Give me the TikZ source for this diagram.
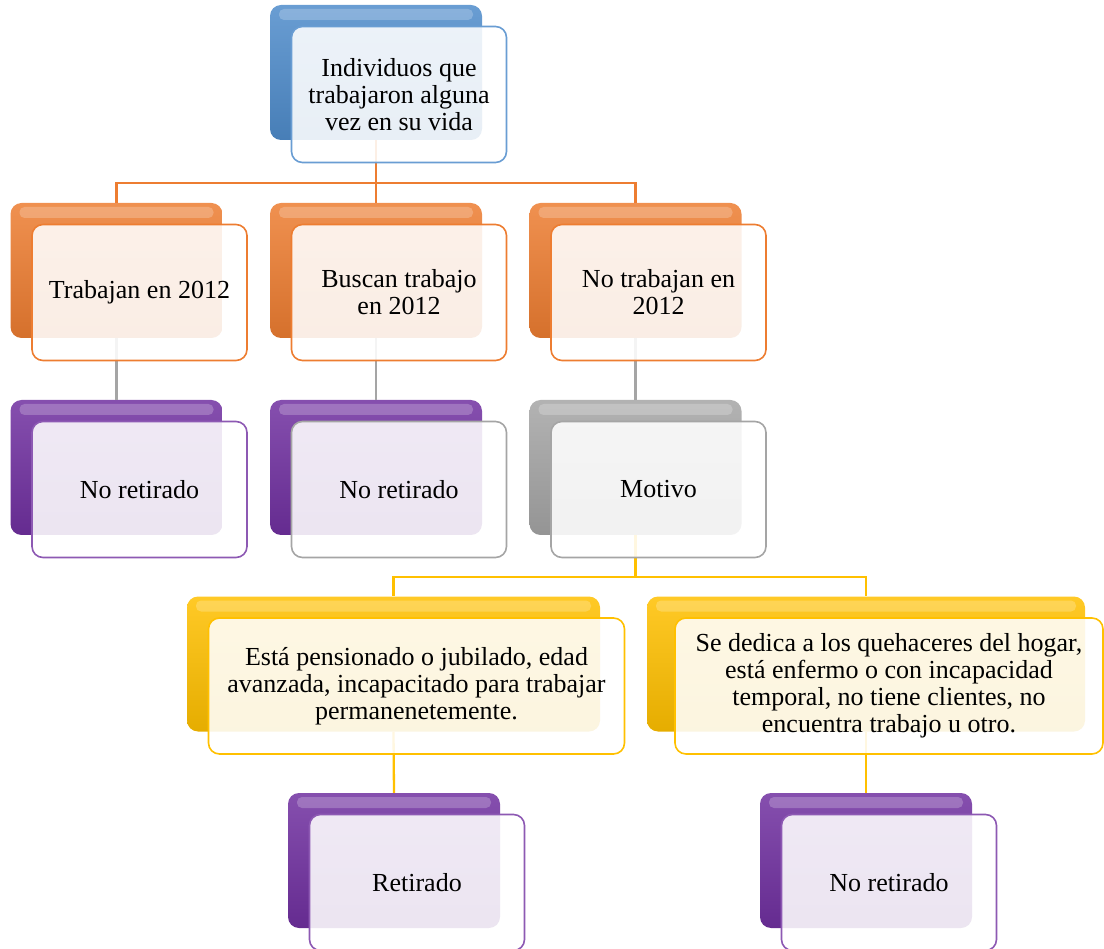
\documentclass[tikz,border=0pt]{standalone}
\usepackage{fontspec}
\setmainfont{Liberation Serif}
\definecolor{azul}{HTML}{4F8CCB}
\definecolor{naranja}{HTML}{ED7D31}
\definecolor{morado}{HTML}{7030A0}
\definecolor{gris}{HTML}{A5A5A5}
\definecolor{amarillo}{HTML}{FFC000}
\begin{document}
\begin{tikzpicture}[x=1pt, y=-1pt,
    fondo/.style = {shape=rectangle, rounded corners=11pt, minimum width=212pt,
    minimum height=135pt, top color=#1!85!white, middle color=#1, bottom color=#1!90!black,
    path picture={\fill[white, opacity=0.22, rounded corners=5pt]
      ([xshift=9pt,yshift=-4pt]path picture bounding box.north west) rectangle
      ([xshift=-9pt,yshift=-15pt]path picture bounding box.north east);}},
    frente/.style = {shape=rectangle, rounded corners=11pt, draw=#1, line width=1.6pt,
    minimum width=215pt, minimum height=136pt, fill=white, fill opacity=0.88, text opacity=1,
    align=center, font=\fontsize{26}{27}\selectfont, xshift=23pt, yshift=-22pt},
    linea/.style = {draw=#1, line width=2.3pt}]
    \useasboundingbox (0,0) rectangle (1104,949);
    \node[fondo=azul] (f-raiz) at (376,72.5) {};
    \node[fondo=naranja] (f-trabajan) at (116.5,270.5) {};
    \node[fondo=naranja] (f-buscan) at (376,270.5) {};
    \node[fondo=naranja] (f-notrabajan) at (635.5,270.5) {};
    \node[fondo=morado] (f-noret1) at (116.5,467.5) {};
    \node[fondo=morado] (f-noret2) at (376,467.5) {};
    \node[fondo=gris] (f-motivo) at (635.5,467.5) {};
    \node[fondo=amarillo, minimum width=413pt] (f-pension) at (393.5,664) {};
    \node[fondo=amarillo, minimum width=438pt] (f-hogar) at (866,664) {};
    \node[fondo=morado] (f-retirado) at (394,860.5) {};
    \node[fondo=morado] (f-noret3) at (866,860.5) {};
    \coordinate (bus1) at (376,183);
    \coordinate (bus2) at (635.5,577);
    \draw[linea=naranja] (f-raiz.south) -- (bus1) -| (f-trabajan.north);
    \draw[linea=naranja] (bus1) -- (f-buscan.north);
    \draw[linea=naranja] (bus1) -| (f-notrabajan.north);
    \draw[linea=gris] (f-trabajan.south) -- (f-noret1.north);
    \draw[linea=gris] (f-buscan.south) -- (f-noret2.north);
    \draw[linea=gris] (f-notrabajan.south) -- (f-motivo.north);
    \draw[linea=amarillo] (f-motivo.south) -- (bus2) -| (f-pension.north);
    \draw[linea=amarillo] (bus2) -| (f-hogar.north);
    \draw[linea=amarillo] (f-pension.south) -- (f-retirado.north);
    \draw[linea=amarillo] (f-hogar.south) -- (f-noret3.north);
    \node[frente=azul!85!white] (raiz) at (f-raiz) {Individuos que\\trabajaron alguna\\vez en su vida};
    \node[frente=naranja] (trabajan) at (f-trabajan) {Trabajan en 2012};
    \node[frente=naranja] (buscan) at (f-buscan) {Buscan trabajo\\en 2012};
    \node[frente=naranja] (notrabajan) at (f-notrabajan) {No trabajan en\\2012};
    \node[frente=morado!80!white] (noret1) at (f-noret1) {No retirado};
    \node[frente=gris] (noret2) at (f-noret2) {No retirado};
    \node[frente=gris] (motivo) at (f-motivo) {Motivo};
    \node[frente=amarillo, minimum width=416pt] (pension) at (f-pension)
      {Está pensionado o jubilado, edad\\avanzada, incapacitado para trabajar\\permanenetemente.};
    \node[frente=amarillo, minimum width=428pt] (hogar) at (f-hogar)
      {Se dedica a los quehaceres del hogar,\\está enfermo o con incapacidad\\temporal, no tiene clientes, no\\encuentra trabajo u otro.};
    \node[frente=morado!80!white] (retirado) at (f-retirado) {Retirado};
    \node[frente=morado!80!white] (noret3) at (f-noret3) {No retirado};
  \end{tikzpicture}
\end{document}
